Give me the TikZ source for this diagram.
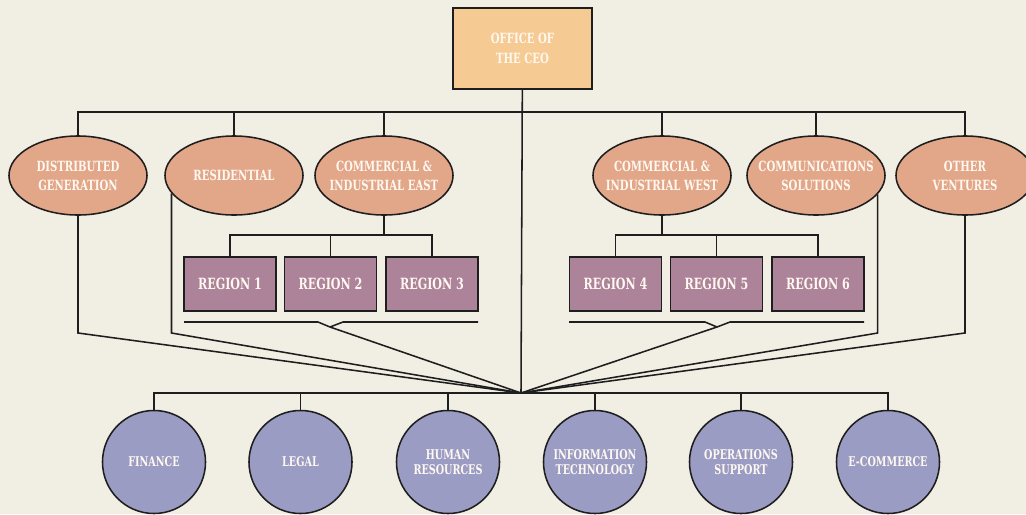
\documentclass[tikz,border=0pt]{standalone}
\usepackage{fontspec}
\setmainfont{DejaVu Serif}[FakeStretch=0.72]
\usetikzlibrary{shapes.geometric}
\definecolor{paper}{HTML}{F1EFE4}
\definecolor{ceofill}{HTML}{F5CB93}
\definecolor{divfill}{HTML}{E2A689}
\definecolor{regfill}{HTML}{AD8399}
\definecolor{supfill}{HTML}{9A9CC4}
\definecolor{capwhite}{HTML}{FFF8F0}
\definecolor{ink}{HTML}{1E1E1E}

\begin{document}
\begin{tikzpicture}
		[x=0.025cm, y=-0.025cm,
		conn/.style ={draw=ink, line width=1.1pt},
		whitetext/.style ={text=capwhite, align=center, inner sep=0pt, font=\bfseries\fontsize{10}{13.5}\selectfont},
		ceo/.style ={rectangle, draw=ink, line width=1.1pt, fill=ceofill, minimum width=3.475cm, minimum height=2.025cm, whitetext, font=\bfseries\fontsize{10}{14.5}\selectfont},
		division/.style ={ellipse, draw=ink, line width=1.1pt, fill=divfill, minimum width=3.45cm, minimum height=1.975cm, whitetext, inner xsep=-8pt},
		region/.style ={rectangle, draw=ink, line width=1.1pt, fill=regfill, minimum width=2.3cm, minimum height=1.35cm, whitetext, font=\bfseries\fontsize{11}{13}\selectfont},
		support/.style ={circle, draw=ink, line width=1.1pt, fill=supfill, minimum size=2.575cm, whitetext, inner sep=-6pt, font=\bfseries\fontsize{9.5}{10.5}\selectfont},
		]

		\useasboundingbox (0,0) rectangle (1026,514);
		\clip (0,0) rectangle (1026,514);
		\fill[paper] (0,0) rectangle (1026,514);

		\draw (522.5,48.5) node[ceo] (CEO) {OFFICE OF\\THE CEO};

		\draw (78,175.5) node[division] (DistGen) {DISTRIBUTED\\GENERATION};
		\draw (234,175.5) node[division] (Residential) {RESIDENTIAL};
		\draw (384,175.5) node[division] (CIEast) {COMMERCIAL \&\\INDUSTRIAL EAST};
		\draw (662,175.5) node[division] (CIWest) {COMMERCIAL \&\\INDUSTRIAL WEST};
		\draw (816,175.5) node[division] (Comms) {COMMUNICATIONS\\SOLUTIONS};
		\draw (965,175.5) node[division] (Ventures) {OTHER\\VENTURES};

		\draw (230,284) node[region] (Region1) {REGION 1};
		\draw (330.5,284) node[region] (Region2) {REGION 2};
		\draw (432,284) node[region] (Region3) {REGION 3};
		\draw (615.5,284) node[region] (Region4) {REGION 4};
		\draw (716.5,284) node[region] (Region5) {REGION 5};
		\draw (818,284) node[region] (Region6) {REGION 6};

		\draw (154,462) node[support] (Finance) {FINANCE};
		\draw (300.5,462) node[support] (Legal) {LEGAL};
		\draw (448,462) node[support] (HR) {HUMAN\\RESOURCES};
		\draw (595,462) node[support] (IT) {INFORMATION\\TECHNOLOGY};
		\draw (741,462) node[support] (Operations) {OPERATIONS\\SUPPORT};
		\draw (888,462) node[support] (ECommerce) {E-COMMERCE};

		\coordinate (topbar) at (521,112);
		\coordinate (hub) at (521,393);
		\coordinate (eastbar) at (384,235);
		\coordinate (westbar) at (662,235);
		\coordinate (eastnotch) at (330,327);
		\coordinate (westnotch) at (717,327);
		\coordinate (drop) at (0,333);

		\draw[conn] (CEO) -- (hub);
		\draw[conn] (topbar) -| (DistGen.north);
		\draw[conn] (topbar) -| (Residential.north);
		\draw[conn] (topbar) -| (CIEast.north);
		\draw[conn] (topbar) -| (CIWest.north);
		\draw[conn] (topbar) -| (Comms.north);
		\draw[conn] (topbar) -| (Ventures.north);

		\draw[conn] (CIEast.south) -- (eastbar);
		\draw[conn] (eastbar) -| (Region1.north);
		\draw[conn] (eastbar) -| (Region2.north);
		\draw[conn] (eastbar) -| (Region3.north);
		\draw[conn] (CIWest.south) -- (westbar);
		\draw[conn] (westbar) -| (Region4.north);
		\draw[conn] (westbar) -| (Region5.north);
		\draw[conn] (westbar) -| (Region6.north);

		\draw[conn] (184,322) -- (318,322) -- (eastnotch) -- (343,322) -- (478,322);
		\draw[conn] (569,322) -- (705,322) -- (westnotch) -- (730,322) -- (864,322);
		\draw[conn] (eastnotch) -- (hub);
		\draw[conn] (westnotch) -- (hub);

		\draw[conn] (DistGen.south) -- (DistGen.south |- drop) -- (hub);
		\draw[conn] (Residential.196) -- (Residential.196 |- drop) -- (hub);
		\draw[conn] (Comms.343) -- (Comms.343 |- drop) -- (hub);
		\draw[conn] (Ventures.south) -- (Ventures.south |- drop) -- (hub);

		\draw[conn] (hub) -| (Finance.north);
		\draw[conn] (hub) -| (Legal.north);
		\draw[conn] (hub) -| (HR.north);
		\draw[conn] (hub) -| (IT.north);
		\draw[conn] (hub) -| (Operations.north);
		\draw[conn] (hub) -| (ECommerce.north);
	\end{tikzpicture}
\end{document}
